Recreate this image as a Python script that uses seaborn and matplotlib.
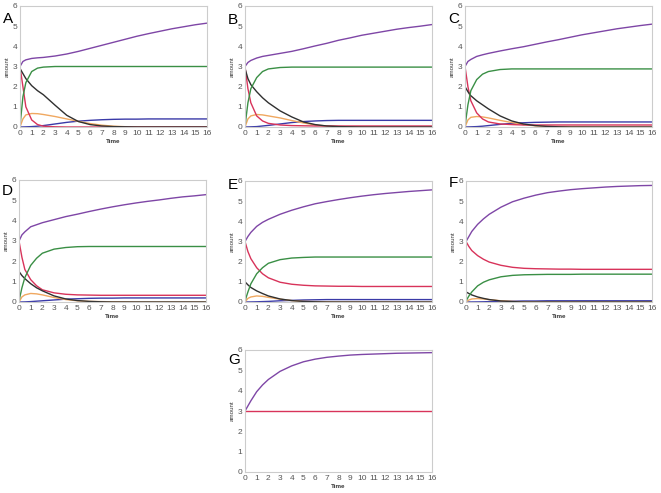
import matplotlib
matplotlib.use("Agg")
import matplotlib.pyplot as plt
import numpy as np
import seaborn as sns

# common time grid
t = [0, 0.25, 0.5, 1, 1.5, 2, 3, 4, 5, 6, 7, 8, 9, 10, 11, 12, 13, 14, 15, 16]
x_ticks = list(range(0, 17))
y_ticks = list(range(0, 7))

panel_A = {
    "blue": [0, 0.003, 0.008, 0.02, 0.04, 0.07, 0.15, 0.23, 0.29, 0.33, 0.36, 0.38, 0.39, 0.39, 0.4, 0.4, 0.4, 0.4, 0.4, 0.4],
    "orange": [0, 0.4, 0.6, 0.67, 0.66, 0.62, 0.52, 0.4, 0.28, 0.17, 0.09, 0.04, 0.015, 0.005, 0, 0, 0, 0, 0, 0],
    "red": [3.0, 2.0, 1.0, 0.35, 0.12, 0.04, 0.01, 0, 0, 0, 0, 0, 0, 0, 0, 0, 0, 0, 0, 0],
    "black": [2.9, 2.65, 2.4, 2.05, 1.8, 1.6, 1.08, 0.58, 0.27, 0.12, 0.05, 0.02, 0.01, 0, 0, 0, 0, 0, 0, 0],
    "green": [0.05, 1.5, 2.2, 2.75, 2.92, 2.97, 3.0, 3.0, 3.0, 3.0, 3.0, 3.0, 3.0, 3.0, 3.0, 3.0, 3.0, 3.0, 3.0, 3.0],
    "purple": [3.0, 3.25, 3.33, 3.4, 3.43, 3.45, 3.52, 3.62, 3.75, 3.9, 4.05, 4.2, 4.35, 4.5, 4.63, 4.75, 4.87, 4.97, 5.07, 5.15],
}
panel_B = {
    "blue": [0, 0.003, 0.008, 0.02, 0.05, 0.08, 0.15, 0.22, 0.27, 0.3, 0.32, 0.33, 0.33, 0.33, 0.33, 0.33, 0.33, 0.33, 0.33, 0.33],
    "orange": [0, 0.4, 0.55, 0.62, 0.6, 0.55, 0.45, 0.32, 0.2, 0.1, 0.05, 0.02, 0.01, 0.01, 0, 0, 0, 0, 0, 0],
    "red": [3.0, 1.9, 1.2, 0.55, 0.3, 0.18, 0.1, 0.07, 0.06, 0.05, 0.05, 0.05, 0.05, 0.05, 0.05, 0.05, 0.05, 0.05, 0.05, 0.05],
    "black": [2.9, 2.4, 2.1, 1.75, 1.45, 1.2, 0.8, 0.5, 0.25, 0.12, 0.05, 0.02, 0.01, 0, 0, 0, 0, 0, 0, 0],
    "green": [0.05, 1.2, 1.9, 2.45, 2.75, 2.88, 2.95, 2.97, 2.97, 2.97, 2.97, 2.97, 2.97, 2.97, 2.97, 2.97, 2.97, 2.97, 2.97, 2.97],
    "purple": [3.0, 3.2, 3.3, 3.42, 3.5, 3.55, 3.65, 3.75, 3.88, 4.02, 4.15, 4.3, 4.42, 4.55, 4.65, 4.75, 4.85, 4.93, 5.0, 5.08],
}
panel_C = {
    "blue": [0, 0.003, 0.008, 0.02, 0.04, 0.07, 0.13, 0.18, 0.21, 0.23, 0.24, 0.25, 0.25, 0.25, 0.25, 0.25, 0.25, 0.25, 0.25, 0.25],
    "orange": [0, 0.35, 0.48, 0.52, 0.5, 0.45, 0.33, 0.22, 0.12, 0.06, 0.03, 0.02, 0.01, 0.01, 0, 0, 0, 0, 0, 0],
    "red": [3.0, 2.0, 1.3, 0.7, 0.4, 0.25, 0.15, 0.12, 0.1, 0.1, 0.1, 0.1, 0.1, 0.1, 0.1, 0.1, 0.1, 0.1, 0.1, 0.1],
    "black": [2.0, 1.75, 1.55, 1.3, 1.1, 0.9, 0.55, 0.3, 0.15, 0.07, 0.03, 0.01, 0, 0, 0, 0, 0, 0, 0, 0],
    "green": [0.05, 1.1, 1.8, 2.35, 2.62, 2.75, 2.85, 2.88, 2.88, 2.88, 2.88, 2.88, 2.88, 2.88, 2.88, 2.88, 2.88, 2.88, 2.88, 2.88],
    "purple": [3.0, 3.25, 3.35, 3.5, 3.58, 3.65, 3.77, 3.88, 3.98, 4.1, 4.22, 4.33, 4.45, 4.57, 4.67, 4.77, 4.87, 4.95, 5.03, 5.1],
}
panel_D = {
    "blue": [0, 0.002, 0.005, 0.02, 0.04, 0.06, 0.1, 0.14, 0.16, 0.18, 0.19, 0.19, 0.2, 0.2, 0.2, 0.2, 0.2, 0.2, 0.2, 0.2],
    "orange": [0, 0.25, 0.35, 0.42, 0.4, 0.35, 0.22, 0.12, 0.06, 0.03, 0.02, 0.01, 0.01, 0, 0, 0, 0, 0, 0, 0],
    "red": [3.0, 2.2, 1.6, 1.1, 0.8, 0.6, 0.45, 0.38, 0.35, 0.34, 0.33, 0.33, 0.33, 0.33, 0.33, 0.33, 0.33, 0.33, 0.33, 0.33],
    "black": [1.5, 1.3, 1.15, 0.9, 0.7, 0.55, 0.3, 0.15, 0.07, 0.03, 0.01, 0, 0, 0, 0, 0, 0, 0, 0, 0],
    "green": [0.05, 0.7, 1.2, 1.8, 2.15, 2.4, 2.6, 2.68, 2.72, 2.73, 2.73, 2.73, 2.73, 2.73, 2.73, 2.73, 2.73, 2.73, 2.73, 2.73],
    "purple": [3.0, 3.3, 3.45, 3.7, 3.8, 3.9, 4.05, 4.2, 4.32, 4.45, 4.57, 4.68, 4.78, 4.87, 4.95, 5.02, 5.1, 5.17, 5.22, 5.28],
}
panel_E = {
    "blue": [0, 0.001, 0.003, 0.01, 0.02, 0.03, 0.06, 0.08, 0.1, 0.11, 0.12, 0.12, 0.12, 0.12, 0.12, 0.12, 0.12, 0.12, 0.12, 0.12],
    "orange": [0, 0.18, 0.25, 0.3, 0.28, 0.23, 0.14, 0.07, 0.03, 0.02, 0.01, 0, 0, 0, 0, 0, 0, 0, 0, 0],
    "red": [3.0, 2.5, 2.15, 1.7, 1.4, 1.2, 0.98, 0.88, 0.83, 0.8, 0.79, 0.78, 0.78, 0.77, 0.77, 0.77, 0.77, 0.77, 0.77, 0.77],
    "black": [1.0, 0.85, 0.72, 0.55, 0.42, 0.3, 0.15, 0.07, 0.03, 0.01, 0, 0, 0, 0, 0, 0, 0, 0, 0, 0],
    "green": [0.05, 0.5, 0.9, 1.4, 1.7, 1.92, 2.1, 2.18, 2.21, 2.23, 2.23, 2.23, 2.23, 2.23, 2.23, 2.23, 2.23, 2.23, 2.23, 2.23],
    "purple": [3.0, 3.25, 3.45, 3.75, 3.95, 4.1, 4.35, 4.55, 4.72, 4.87, 4.98, 5.08, 5.17, 5.25, 5.32, 5.38, 5.43, 5.48, 5.52, 5.56],
}
panel_F = {
    "blue": [0, 0.001, 0.002, 0.005, 0.01, 0.02, 0.03, 0.04, 0.05, 0.05, 0.06, 0.06, 0.06, 0.06, 0.06, 0.06, 0.06, 0.06, 0.06, 0.06],
    "orange": [0, 0.1, 0.15, 0.17, 0.15, 0.12, 0.06, 0.03, 0.01, 0, 0, 0, 0, 0, 0, 0, 0, 0, 0, 0],
    "red": [3.0, 2.75, 2.55, 2.3, 2.12, 1.98, 1.82, 1.72, 1.67, 1.65, 1.64, 1.63, 1.63, 1.62, 1.62, 1.62, 1.62, 1.62, 1.62, 1.62],
    "black": [0.5, 0.42, 0.35, 0.25, 0.18, 0.12, 0.05, 0.02, 0, 0, 0, 0, 0, 0, 0, 0, 0, 0, 0, 0],
    "green": [0.05, 0.3, 0.5, 0.8, 0.98, 1.1, 1.25, 1.32, 1.35, 1.36, 1.37, 1.37, 1.37, 1.38, 1.38, 1.38, 1.38, 1.38, 1.38, 1.38],
    "purple": [3.0, 3.25, 3.5, 3.85, 4.12, 4.35, 4.7, 4.97, 5.15, 5.3, 5.42, 5.5, 5.57, 5.62, 5.66, 5.7, 5.73, 5.75, 5.77, 5.78],
}
panel_G = {
    "red": [3.0, 3.0, 3.0, 3.0, 3.0, 3.0, 3.0, 3.0, 3.0, 3.0, 3.0, 3.0, 3.0, 3.0, 3.0, 3.0, 3.0, 3.0, 3.0, 3.0],
    "purple": [3.0, 3.25, 3.5, 3.95, 4.28, 4.55, 4.95, 5.22, 5.42, 5.55, 5.64, 5.7, 5.75, 5.78, 5.8, 5.82, 5.84, 5.85, 5.86, 5.87],
}

colors = {
    "blue": "#3a3aa8",
    "orange": "#f0a860",
    "red": "#d8335a",
    "black": "#303030",
    "green": "#3a8f45",
    "purple": "#7e46a6",
}

# pixel boxes (left, top, right, bottom, letter baseline offset) of each panel
W, H = 661, 493
boxes = {
    "A": (20, 6, 207, 127, 17, panel_A),
    "B": (245, 6, 432, 127, 18, panel_B),
    "C": (465, 6, 652, 127, 17, panel_C),
    "D": (19, 180, 206, 302, 15, panel_D),
    "E": (245, 181, 432, 302, 8, panel_E),
    "F": (466, 181, 652, 302, 6, panel_F),
    "G": (245, 350, 432, 472, 14, panel_G),
}

sns.set_style("white")
plt.rcParams["font.family"] = ["Liberation Sans", "DejaVu Sans"]
fig = plt.figure(figsize=(W / 100, H / 100), dpi=100)

for letter, (l, tp, r, b, off, data) in boxes.items():
    ax = fig.add_axes([l / W, 1 - b / H, (r - l) / W, (b - tp) / H])
    for name, vals in data.items():
        sns.lineplot(x=t, y=vals, ax=ax, color=colors[name], linewidth=1.0)
    ax.set_xlim(0, 16)
    ax.set_ylim(0, 6)
    ax.set_xticks(x_ticks)
    ax.set_yticks(y_ticks)
    ax.tick_params(axis="both", length=0, pad=2, labelsize=6, labelcolor="#555555")
    for s in ax.spines.values():
        s.set_color("#cccccc")
        s.set_linewidth(0.8)
    ax.set_xlabel("Time", fontsize=4.5, labelpad=1.5, fontweight="bold", color="#333333")
    ax.set_ylabel("amount", fontsize=4.5, labelpad=2, color="#333333")
    fig.text((l - 17) / W, 1 - (tp + off) / H, letter, fontsize=11, color="black")

fig.savefig("out.png", dpi=100)
